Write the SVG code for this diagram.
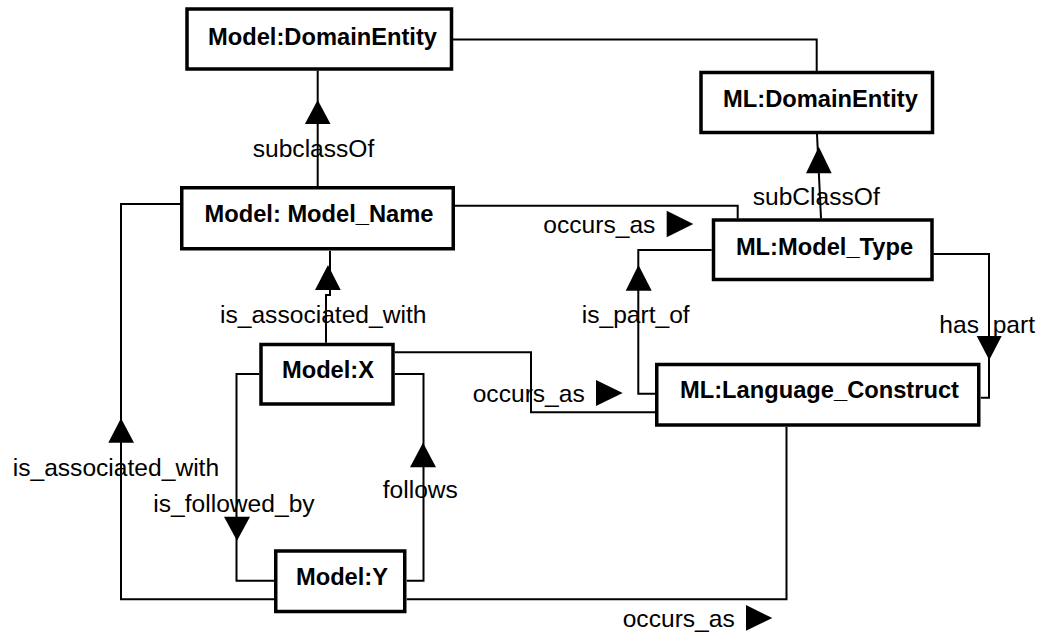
<svg xmlns="http://www.w3.org/2000/svg" width="1046" height="634" viewBox="0 0 1046 634">
<style>
.box{fill:#fff;stroke:#000;stroke-width:3.5}
.nt{font-family:"Liberation Sans",Arial,sans-serif;font-weight:bold;font-size:23.7px;text-anchor:middle;fill:#000}
.lb{font-family:"Liberation Sans",Arial,sans-serif;font-size:24.6px;fill:#000}
.ln{fill:none;stroke:#000;stroke-width:2}
.ah{fill:#000;stroke:none}
</style>
<rect width="1046" height="634" fill="#fff"/>
<g id="connectors">
<path class="ln" d="M453,39.5 H816.7 V71"/>
<path class="ln" d="M317.7,70.7 V186"/>
<polygon class="ah" points="317.7,100 304.9,124 330.5,124"/>
<text class="lb" x="252.7" y="156.7">subclassOf</text>
<path class="ln" d="M821,218.5 L817,134"/>
<polygon class="ah" points="818.8,146.7 806,173.3 831.7,173.3"/>
<text class="lb" x="752.7" y="205">subClassOf</text>
<path class="ln" d="M455,205.8 H737.7 V218.5"/>
<text class="lb" x="543.3" y="233.3">occurs_as</text>
<polygon class="ah" points="666.7,210.7 666.7,237.3 693.3,224"/>
<path class="ln" d="M711.7,250 H638.3 V393.7 H655"/>
<polygon class="ah" points="638.5,265 625.7,290.7 651.7,290.7"/>
<text class="lb" x="581.7" y="323.3">is_part_of</text>
<path class="ln" d="M933.3,254 H989 V397.7 H980.7"/>
<polygon class="ah" points="976.7,336 1001.7,336 989.2,360"/>
<text class="lb" x="939.3" y="333.3">has_part</text>
<path class="ln" d="M330,250.7 V295 H326 V342.7"/>
<polygon class="ah" points="328,265 315,290 340.7,290"/>
<text class="lb" x="220" y="323.3">is_associated_with</text>
<path class="ln" d="M180,204 H121 V599.3 H274"/>
<polygon class="ah" points="121,418.3 108.3,442.7 134,442.7"/>
<text class="lb" x="12.7" y="476">is_associated_with</text>
<path class="ln" d="M259.3,374 H236.5 V580.7 H274"/>
<polygon class="ah" points="224,516.7 250,516.7 237,540.7"/>
<text class="lb" x="153.3" y="511.7">is_followed_by</text>
<path class="ln" d="M406.7,580.7 H423.5 V374 H394.7"/>
<polygon class="ah" points="423,442.7 410,467.3 436,467.3"/>
<text class="lb" x="382.7" y="498.3">follows</text>
<path class="ln" d="M394.7,352.3 H531 V412.3 H655"/>
<text class="lb" x="472.7" y="401.7">occurs_as</text>
<polygon class="ah" points="596,380 596,406 622.7,393"/>
<path class="ln" d="M406.7,599.3 H786.5 V426.7"/>
<text class="lb" x="622.7" y="626.7">occurs_as</text>
<polygon class="ah" points="746,605 746,630.7 772.3,618"/>
</g>
<g id="model-domainentity">
<rect class="box" x="187" y="9" width="264.5" height="60"/>
<text class="nt" x="322.5" y="45">Model:DomainEntity</text>
</g>
<g id="ml-domainentity">
<rect class="box" x="701" y="72.5" width="231.5" height="60"/>
<text class="nt" x="820.5" y="107.3">ML:DomainEntity</text>
</g>
<g id="model-model-name">
<rect class="box" x="181.75" y="187.75" width="271.5" height="61"/>
<text class="nt" x="319" y="221.7">Model: Model_Name</text>
</g>
<g id="ml-model-type">
<rect class="box" x="713.5" y="220" width="218.5" height="59.5"/>
<text class="nt" x="824.5" y="255">ML:Model_Type</text>
</g>
<g id="model-x">
<rect class="box" x="261" y="344.5" width="132" height="59.5"/>
<text class="nt" x="328" y="378.3">Model:X</text>
</g>
<g id="ml-language-construct">
<rect class="box" x="656.75" y="364.5" width="322" height="60.5"/>
<text class="nt" x="819.5" y="398.3">ML:Language_Construct</text>
</g>
<g id="model-y">
<rect class="box" x="275.75" y="551" width="129" height="60.5"/>
<text class="nt" x="342" y="585">Model:Y</text>
</g>
</svg>
